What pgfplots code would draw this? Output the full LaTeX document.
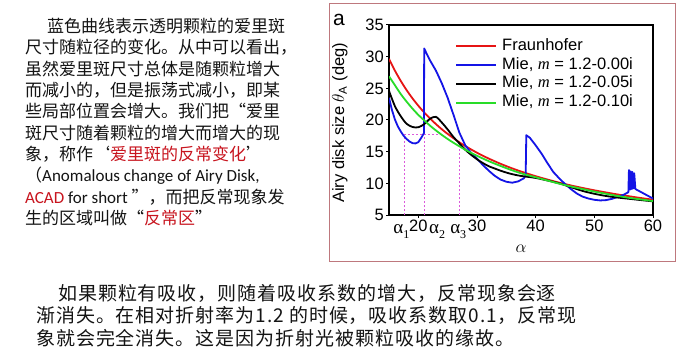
\documentclass[border=0pt]{standalone}
\usepackage{fontspec}
\usepackage{pgfplots}
\pgfplotsset{compat=1.18}
\setmainfont{Liberation Sans}
\setsansfont{Liberation Sans}
\newfontfamily\cjk{Noto Sans CJK SC}
\newfontfamily\cjkb[LetterSpace=5]{Noto Sans CJK SC}
\newfontfamily\lat{Carlito}
\newfontfamily\serif{Liberation Serif}
\definecolor{txt}{RGB}{20,20,20}
\definecolor{txtred}{RGB}{200,20,30}
\definecolor{boxc}{RGB}{190,120,125}
\definecolor{mred}{RGB}{230,20,20}
\definecolor{mblue}{RGB}{20,20,230}
\definecolor{mgreen}{RGB}{40,220,40}
\definecolor{mmag}{RGB}{220,90,220}
\newcommand{\al}[1]{{\serif\fontsize{19}{19}\selectfont α\raisebox{-4.5pt}{\fontsize{12}{12}\selectfont #1}}}
\begin{document}
\begin{tikzpicture}
\useasboundingbox (0,0) rectangle (693pt,362pt);
\fill[white] (0,0) rectangle (693pt,362pt);
\draw[boxc, line width=1pt] (329.5pt,101pt) rectangle (675pt,358pt);
% left text block
\begin{scope}[every node/.style={anchor=base west, inner sep=0pt, font=\cjk\fontsize{17}{17}\selectfont, text=txt}]
\node at (47pt,329.5pt) {蓝色曲线表示透明颗粒的爱里斑};
\node at (25pt,308.15pt) {尺寸随粒径的变化。从中可以看出，};
\node at (25pt,286.8pt) {虽然爱里斑尺寸总体是随颗粒增大};
\node at (25pt,265.45pt) {而减小的，但是振荡式减小，即某};
\node at (25pt,244.1pt) {些局部位置会增大。我们把“爱里};
\node at (25pt,222.75pt) {斑尺寸随着颗粒的增大而增大的现};
\node at (25pt,201.4pt) {象，称作‘\textcolor{txtred}{爱里斑的反常变化}’};
\node at (25pt,180.05pt) {（{\lat Anomalous change of Airy Disk,}};
\node at (25pt,158.7pt) {{\lat\textcolor{txtred}{ACAD} for short }”，而把反常现象发};
\node at (25pt,137.35pt) {生的区域叫做“\textcolor{txtred}{反常区}”};
\end{scope}
% bottom text block
\begin{scope}[every node/.style={anchor=base west, inner sep=0pt, font=\cjkb\fontsize{19}{19}\selectfont, text=txt}]
\node at (58pt,62pt) {如果颗粒有吸收，则随着吸收系数的增大，反常现象会逐};
\node at (36pt,39.5pt) {渐消失。在相对折射率为1.2 的时候，吸收系数取0.1，反常现};
\node at (36pt,17pt) {象就会完全消失。这是因为折射光被颗粒吸收的缘故。};
\end{scope}
\node[inner sep=0pt, font=\fontsize{21}{21}\selectfont] at (339pt,342pt) {a};
\begin{axis}[
  at={(389pt,147pt)}, anchor=south west,
  scale only axis, width=264pt, height=190pt,
  xmin=15, xmax=60, ymin=5, ymax=35,
  xtick={20,30,40,50,60}, ytick={5,10,15,20,25,30,35},
  tick align=outside, xtick pos=bottom, ytick pos=left,
  major tick length=3pt,
  axis line style={line width=1.1pt, black},
  every tick/.style={line width=1pt, black},
  /pgf/number format/assume math mode=true,
  ticklabel style={font=\fontsize{16.5}{17}\selectfont, inner sep=2pt},
  ylabel={Airy disk size $\theta_{\mathrm{A}}$ (deg)},
  ylabel style={at={(axis description cs:-0.186,0.485)}, anchor=center, font=\fontsize{16.5}{17}\selectfont},
  xlabel={$\alpha$},
  xlabel style={at={(axis description cs:0.5,-0.179)}, anchor=center, font=\fontsize{19}{19}\selectfont},
  legend cell align=left,
  legend style={at={(axis description cs:0.25,0.932)}, anchor=north west, draw=none, fill=none,
    inner sep=0pt, row sep=3.4pt, font=\fontsize{16.5}{17}\selectfont,
    nodes={inner sep=0pt, text height=12pt, text depth=3.5pt},
    /tikz/every odd column/.append style={column sep=5pt}},
  legend image code/.code={\draw[#1, line width=2pt] (0pt,0pt) -- (40pt,0pt);},
  clip mode=individual,
]
% dashed guide lines
\addplot[mmag, line width=0.7pt, dash pattern=on 2pt off 2pt, forget plot] coordinates {(17.7,5) (17.7,17.75) (24.0,17.75)};
\addplot[mmag, line width=0.7pt, dash pattern=on 2pt off 2pt, forget plot] coordinates {(21.0,5) (21.0,17.75)};
\addplot[mmag, line width=0.7pt, dash pattern=on 2pt off 2pt, forget plot] coordinates {(27.0,5) (27.0,16.8)};
% Fraunhofer
\addplot[mred, line width=1.8pt, smooth] coordinates {
(15,29.67) (16,27.81) (17,26.18) (18,24.72) (19,23.42) (20,22.25) (21,21.19) (22,20.23) (23,19.35) (24,18.54)
(25,17.80) (26,17.12) (27,16.48) (28,15.89) (30,14.83) (32,13.91) (34,13.09) (36,12.36) (38,11.71) (40,11.13)
(42,10.60) (44,10.11) (46,9.67) (48,9.27) (50,8.90) (52,8.56) (54,8.24) (56,7.95) (58,7.67) (60,7.42)};
\addlegendentry{Fraunhofer}
% Mie m=1.2-0.00i
\addplot[mblue, line width=1.8pt, line join=round] coordinates {
(15,23.5) (15.5,21.6) (16,20.1) (16.5,19.0) (17,18.2) (17.5,17.5) (18,17.0) (18.5,16.6) (19,16.35) (19.5,16.3)
(20,16.5) (20.5,17.2) (20.95,17.9) (21.0,31.3) (21.3,30.7) (22,29.4) (23,27.8) (24,25.8) (25,23.5) (26,20.8)
(27,18.0) (28,16.0) (29,14.8) (30,13.9) (31,12.9) (32,12.0) (33,11.2) (34,10.6) (35,10.25) (36,10.1)
(37,10.3) (38,10.8) (38.3,11.3) (38.4,17.6) (39,17.2) (40,16.0) (41,14.7) (42,13.2) (43,11.8) (44,10.8)
(45,9.9) (46,9.1) (47,8.4) (48,7.9) (49,7.6) (50,7.4) (51,7.3) (52,7.35) (53,7.55) (54,7.85)
(55,8.2) (55.8,8.6) (55.9,12.1) (56.1,9.0) (56.2,11.9) (56.4,9.1) (56.5,11.8) (56.7,9.2) (56.8,11.6) (57.0,9.1)
(58,8.6) (59,8.1) (60,7.6)};
\addlegendentry{Mie, {\serif\itshape m} = 1.2-0.00i}
% Mie m=1.2-0.05i
\addplot[black, line width=1.8pt, smooth] coordinates {
(15,24.6) (16,22.2) (17,20.6) (18,19.4) (19,18.9) (20,18.85) (21,19.35) (22,20.2) (23,20.5) (24,19.6)
(25,18.5) (26,17.3) (27,16.3) (28,15.3) (29,14.5) (30,13.8) (31,13.2) (32,12.7) (33,12.35) (34,12.0)
(35,11.7) (36,11.45) (37,11.25) (38,11.1) (40,10.85) (42,10.45) (44,10.0) (46,9.4) (48,8.8) (50,8.35)
(52,8.0) (54,7.75) (56,7.55) (58,7.35) (60,7.15)};
\addlegendentry{Mie, {\serif\itshape m} = 1.2-0.05i}
% Mie m=1.2-0.10i
\addplot[mgreen, line width=1.8pt, smooth] coordinates {
(15,26.9) (16,25.5) (17,24.1) (18,22.9) (19,21.8) (20,20.8) (21,19.95) (22,19.1) (23,18.35) (24,17.65)
(25,17.0) (26,16.4) (27,15.85) (28,15.3) (30,14.35) (32,13.5) (34,12.75) (36,12.05) (38,11.45) (40,10.95)
(42,10.45) (44,9.95) (46,9.5) (48,9.1) (50,8.7) (52,8.35) (54,8.0) (56,7.7) (58,7.45) (60,7.2)};
\addlegendentry{Mie, {\serif\itshape m} = 1.2-0.10i}
% alpha labels
\node[anchor=base, inner sep=0pt] at (axis cs:17.1,5) [yshift=-18.5pt] {\al{1}};
\node[anchor=base, inner sep=0pt] at (axis cs:23.2,5) [yshift=-18.5pt] {\al{2}};
\node[anchor=base, inner sep=0pt] at (axis cs:26.8,5) [yshift=-18.5pt] {\al{3}};
\end{axis}
\end{tikzpicture}
\end{document}
